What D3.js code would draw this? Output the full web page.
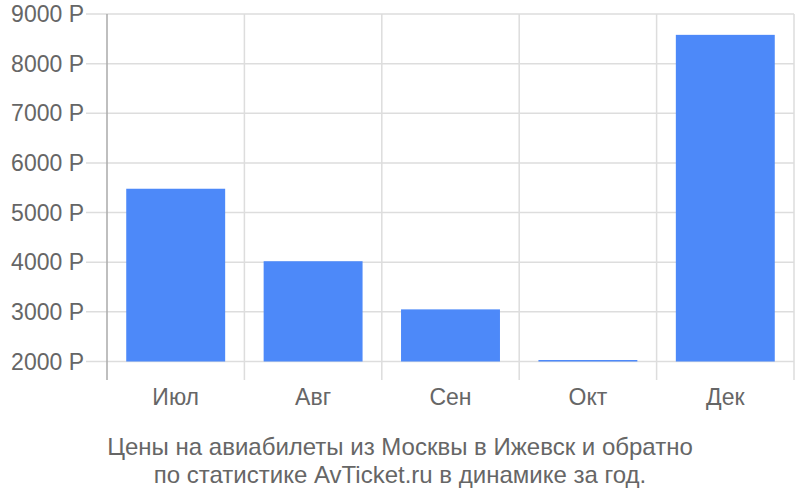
<!DOCTYPE html>
<html><head><meta charset="utf-8">
<script src="https://cdn.jsdelivr.net/npm/d3@7"></script>
<style>body{margin:0;background:#fff}svg{display:block}text{font-family:"Liberation Sans",Arial,sans-serif}</style>
</head><body><svg id="c" width="800" height="500"></svg>
<script>
const categories = ["Июл", "Авг", "Сен", "Окт", "Дек"];
const prices = [5480, 4020, 3050, 2030, 8580];
const yTicks = [2000, 3000, 4000, 5000, 6000, 7000, 8000, 9000];
const titleLines = ["Цены на авиабилеты из Москвы в Ижевск и обратно", "по статистике AvTicket.ru в динамике за год."];

(function () {
const svg = d3.select("#c");
const pLeft = 107, pRight = 794, pTop = 14, pBottom = 361.5, axisBottom = 380;
const x = d3.scaleBand().domain(categories).range([pLeft, pRight]).padding(0);
const y = d3.scaleLinear().domain([2000, 9000]).range([pBottom, pTop]);
const barW = x.bandwidth() * 0.72;

svg.append("g").selectAll("line").data(yTicks).join("line")
  .attr("x1", 86).attr("x2", pRight)
  .attr("y1", d => y(d)).attr("y2", d => y(d))
  .attr("stroke", "#dddddd").attr("stroke-width", 1.5);

const seps = categories.map(c => x(c) + x.bandwidth());
svg.append("g").selectAll("line").data(seps).join("line")
  .attr("x1", d => d).attr("x2", d => d)
  .attr("y1", pTop).attr("y2", axisBottom)
  .attr("stroke", "#dddddd").attr("stroke-width", 1.5);

svg.append("line").attr("x1", pLeft).attr("x2", pLeft).attr("y1", pTop).attr("y2", axisBottom)
  .attr("stroke", "#aaaaaa").attr("stroke-width", 1.5);

svg.append("g").selectAll("rect").data(prices).join("rect")
  .attr("x", (d, i) => x(categories[i]) + (x.bandwidth() - barW) / 2)
  .attr("width", barW)
  .attr("y", d => y(d))
  .attr("height", d => y(2000) - y(d))
  .attr("fill", "#4d89f9");

svg.append("g").selectAll("text").data(yTicks).join("text")
  .attr("x", 84).attr("y", d => y(d)).attr("dy", "0.35em")
  .attr("text-anchor", "end").attr("fill", "#666666").attr("font-size", 23)
  .text(d => d + " Р");

svg.append("g").selectAll("text").data(categories).join("text")
  .attr("x", d => x(d) + x.bandwidth() / 2).attr("y", 405)
  .attr("text-anchor", "middle").attr("fill", "#666666").attr("font-size", 23)
  .text(d => d);

svg.append("g").selectAll("text").data(titleLines).join("text")
  .attr("x", 400).attr("y", (d, i) => 455 + i * 28)
  .attr("text-anchor", "middle").attr("fill", "#666666").attr("font-size", 24)
  .text(d => d);
})();
</script></body></html>
